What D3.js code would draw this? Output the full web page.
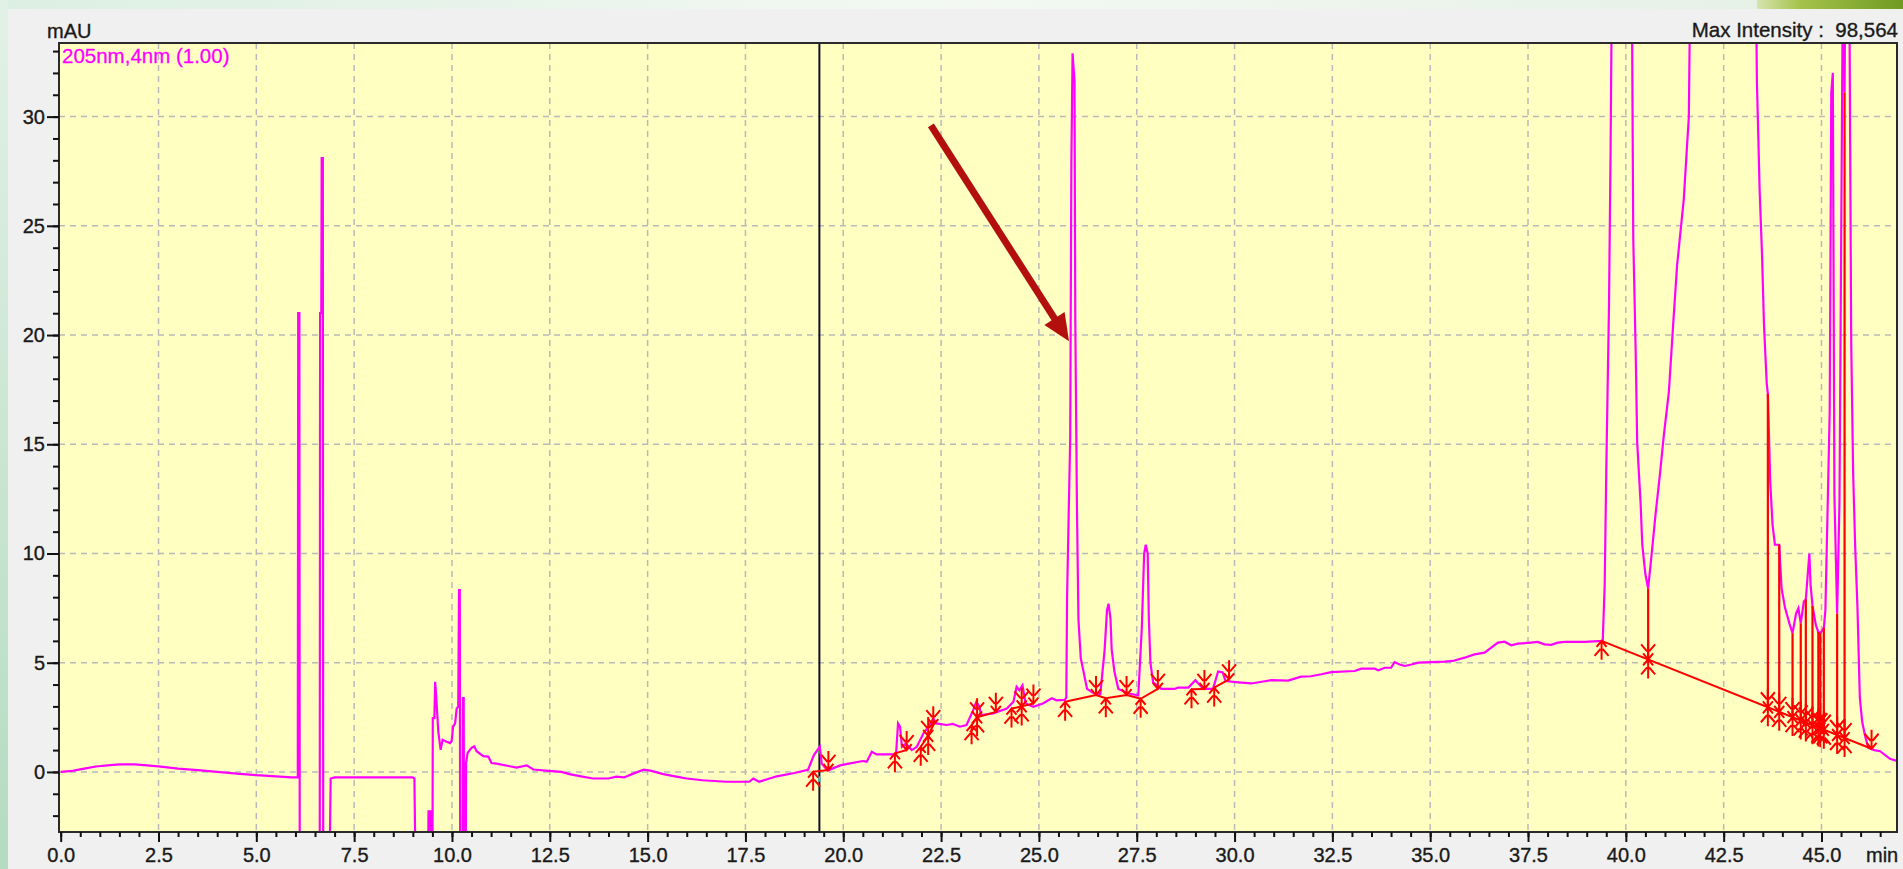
<!DOCTYPE html>
<html>
<head>
<meta charset="utf-8">
<script src="https://cdn.jsdelivr.net/npm/d3@7"></script>
<style>
body{margin:0;overflow:hidden;background:#f0f0f0}
text{font-family:"Liberation Sans",Arial,sans-serif}
</style>
</head>
<body>
<div id="chart"></div>
<script>
//chromatogram, 205nm channel

//trace points [time (min), absorbance (mAU)], off-scale parts go past the frame and get clipped
var trace = [
[0,0],[0.3,0.05],[0.6,0.15],[0.9,0.25],[1.2,0.3],[1.5,0.35],[1.9,0.35],[2.2,0.3],[2.5,0.25],[3.0,0.15],[3.5,0.08],[4.0,0],[4.5,-0.08],[5.0,-0.15],[5.5,-0.2],[5.9,-0.25],[6.06,-0.25],
[6.07,21.0],[6.1,21.0],[6.11,-6],
[6.62,-6],[6.63,21.0],[6.66,21.0],[6.67,28.1],[6.7,28.1],[6.71,-6],
[6.86,-6],[6.9,-0.3],[7.0,-0.25],[7.5,-0.25],[8.0,-0.25],[8.5,-0.25],[9.0,-0.25],[9.04,-0.3],[9.08,-6],
[9.38,-6],[9.4,-1.8],[9.45,-1.8],[9.47,-6],
[9.5,-6],[9.51,2.46],[9.55,2.46],[9.57,4.13],[9.6,3.38],[9.65,1.85],[9.71,1.01],[9.76,1.47],[9.85,1.39],[9.95,1.32],[9.99,1.4],[10.03,2.07],[10.08,2.22],[10.12,2.9],[10.16,3.0],[10.18,8.32],[10.2,8.32],[10.21,-6],
[10.27,-6],[10.28,3.38],[10.3,3.38],[10.31,-6],
[10.35,-6],[10.36,0.41],[10.4,0.87],[10.5,1.1],[10.57,1.17],[10.63,0.95],[10.8,0.72],[10.93,0.7],[11.01,0.41],[11.14,0.38],[11.48,0.26],[11.65,0.2],[11.91,0.3],[12.08,0.11],[12.46,0.05],[12.8,0.0],[13.0,-0.1],[13.3,-0.2],[13.6,-0.3],[14.0,-0.3],[14.2,-0.22],[14.4,-0.25],[14.6,-0.1],[14.9,0.1],[15.1,0.05],[15.4,-0.1],[15.7,-0.2],[16.0,-0.3],[16.4,-0.38],[17.0,-0.45],[17.6,-0.45],[17.7,-0.3],[17.85,-0.45],[18.3,-0.2],[18.75,-0.05],[19.1,0.1],
[19.25,0.77],[19.4,1.15],[19.45,0.38],[19.6,0.06],[19.92,0.3],[20.14,0.38],[20.5,0.5],[20.6,0.47],[20.73,0.92],[20.85,0.8],[21.27,0.8],[21.35,0.85],[21.4,2.22],[21.45,2.07],[21.5,1.15],[21.6,1.3],[21.75,1.0],[21.88,1.15],[22.05,1.77],[22.15,2.0],[22.3,2.45],[22.38,2.22],[22.64,2.15],[22.8,2.2],[22.98,2.07],[23.15,2.15],[23.32,2.83],[23.4,3.21],[23.48,3.0],[23.52,2.6],[23.83,2.68],[24.18,2.9],[24.35,3.21],[24.43,3.9],[24.5,3.74],[24.58,3.97],[24.66,3.13],[24.86,2.98],[25.1,3.13],[25.33,3.37],[25.45,3.28],[25.66,3.3],
[25.7,3.4],[25.72,8.0],[25.76,11.7],[25.8,15.3],[25.83,27.9],[25.86,32.9],[25.91,31.6],[25.93,20.7],[25.97,12.5],[26.01,7.0],[26.07,5.2],[26.14,4.6],[26.23,3.8],[26.4,3.6],[26.57,3.57],[26.68,5.6],[26.74,7.4],[26.78,7.7],[26.83,7.0],[26.86,5.6],[26.93,4.6],[27.03,3.8],[27.28,3.6],[27.54,3.5],[27.63,6.6],[27.69,10.0],[27.73,10.4],[27.78,10.0],[27.81,7.0],[27.85,5.0],[27.92,4.1],[28.13,3.8],[28.47,3.8],[28.55,3.86],[28.82,3.86],[29.0,4.2],[29.1,4.0],[29.2,3.8],[29.45,3.8],[29.58,4.6],[29.7,4.55],[29.77,4.16],[30.1,4.1],[30.43,4.05],[30.77,4.15],[30.94,4.2],[31.37,4.18],[31.7,4.36],[31.95,4.38],[32.22,4.47],[32.47,4.57],[33.07,4.62],[33.24,4.73],[33.58,4.73],[33.67,4.65],[33.84,4.77],[34.0,4.77],[34.09,5.03],[34.22,4.92],[34.35,4.85],[34.52,4.92],[34.69,5.0],[35.03,5.03],[35.37,5.05],[35.58,5.08],[35.71,5.15],[35.88,5.23],[36.13,5.38],[36.39,5.46],[36.56,5.69],[36.73,5.92],[36.9,5.96],[37.07,5.8],[37.24,5.87],[37.58,5.92],[37.75,5.95],[37.92,5.84],[38.09,5.82],[38.26,5.92],[38.43,5.95],[38.94,5.95],[39.41,6.0],
[39.46,8.6],[39.5,13.8],[39.57,21.4],[39.61,28.4],[39.66,40],[39.9,60],[40.14,40],[40.19,24.4],[40.25,19.4],[40.29,15.1],[40.38,12.2],[40.42,10.4],[40.5,9.05],[40.57,8.4],[40.65,9.8],[40.76,11.8],[40.87,13.6],[40.97,15.4],[41.1,17.4],[41.21,20.5],[41.31,23.2],[41.48,26.2],[41.61,30],[41.67,40],[42.5,98.564],[43.3,40],[43.35,31.6],[43.42,26.6],[43.48,23.7],[43.53,20.5],[43.6,17.8],[43.63,17.3],[43.69,13.3],[43.75,11.3],[43.81,10.4],[43.92,10.4],[43.98,8.4],[44.07,7.5],[44.18,6.8],[44.26,6.35],[44.35,7.25],[44.41,7.5],[44.47,6.8],[44.55,7.8],[44.6,7.9],[44.69,10.0],[44.72,8.6],[44.77,7.6],[44.86,6.7],[44.92,6.4],[44.97,6.35],[45.03,6.5],[45.06,6.6],[45.1,7.4],[45.15,11.5],[45.21,16.5],[45.25,31.1],[45.29,32.0],[45.33,12.7],[45.4,7.25],[45.46,12.4],[45.51,26.2],[45.56,40],[45.59,31.1],[45.62,40],[45.7,40],[45.76,19.6],[45.81,13.6],[45.86,10.4],[45.92,7.5],[45.98,3.4],[46.04,2.3],[46.12,1.6],[46.2,1.1],[46.35,1.0],[46.5,0.95],[46.75,0.6],[46.93,0.5]
];

//integration baselines (red)
var baselines = [
[[19.23,0.01],[19.62,0.09]],
[[21.32,0.85],[21.62,1.0]],
[[21.98,1.15],[22.17,1.65],[22.3,2.14]],
[[23.28,2.14],[23.42,2.5],[23.9,2.75]],
[[24.3,2.9],[24.56,3.0],[24.86,3.13]],
[[25.67,3.21],[26.46,3.52],[26.71,3.37],[27.24,3.52],[27.6,3.35],[28.04,3.8]],
[[28.9,3.78],[29.23,3.8]],
[[29.48,3.86],[29.86,4.24]],
[[39.38,6.0],[46.28,1.06]]
];

//peak start / end marks: s = start, e = end, b = both
var marks = [
[19.23,0.01,"s"],[19.62,0.09,"e"],
[21.32,0.85,"s"],[21.62,1.0,"e"],
[21.98,1.15,"s"],[22.17,1.65,"b"],[22.3,2.14,"e"],
[23.28,2.14,"s"],[23.42,2.5,"b"],[23.9,2.75,"e"],
[24.3,2.9,"s"],[24.56,3.0,"b"],[24.86,3.13,"e"],
[25.67,3.21,"s"],[26.46,3.52,"e"],[26.71,3.37,"s"],[27.24,3.52,"e"],[27.6,3.35,"s"],[28.04,3.8,"e"],
[28.9,3.78,"s"],[29.23,3.8,"e"],[29.48,3.86,"s"],[29.86,4.24,"e"],
[39.38,6.0,"s"],[40.57,5.15,"b"],[43.63,2.96,"b"],[43.92,2.75,"b"],[44.26,2.51,"b"],[44.47,2.36,"b"],[44.6,2.26,"b"],[44.77,2.14,"b"],[44.92,2.03,"b"],[44.97,2.0,"b"],[45.06,1.93,"b"],[45.4,1.69,"b"],[45.59,1.55,"b"],[46.28,1.06,"e"]
];

//drop lines [time, top, base]
var drops = [
[40.57,8.4,5.15],[43.63,17.3,2.96],[43.92,10.4,2.75],[44.26,6.35,2.51],[44.47,6.8,2.36],[44.6,7.9,2.26],[44.77,7.6,2.14],[44.92,6.4,2.03],[44.97,6.35,2.0],[45.06,6.6,1.93],[45.4,7.25,1.69],[45.59,31.1,1.55]
];

var cursorTime = 19.39;
var arrowFrom = [22.24, 29.6], arrowTo = [25.77, 19.72];

var xMajor = d3.range(0, 45.01, 2.5);
var xMinor = d3.range(0, 46.9, 0.5);
var yMajor = [0, 5, 10, 15, 20, 25, 30];
var yMinor = d3.range(-2, 34, 1);

var W = 1903, H = 869;
var P = {left:59, top:43, right:1897, bottom:832};

var x = d3.scaleLinear().domain([-0.043, 46.93]).range([P.left, P.right]);
var y = d3.scaleLinear().domain([-2.75, 33.37]).range([P.bottom, P.top]);

var svg = d3.select("#chart").append("svg").attr("width", W).attr("height", H);
var defs = svg.append("defs");

//window chrome
var g1 = defs.append("linearGradient").attr("id","topband");
g1.append("stop").attr("offset","0").attr("stop-color","#dcefe2");
g1.append("stop").attr("offset","0.5").attr("stop-color","#f3f8f3");
g1.append("stop").attr("offset","1").attr("stop-color","#e4f0e4");
var g2 = defs.append("linearGradient").attr("id","leaf");
g2.append("stop").attr("offset","0").attr("stop-color","#d6e4b0");
g2.append("stop").attr("offset","0.3").attr("stop-color","#a4c24a");
g2.append("stop").attr("offset","1").attr("stop-color","#6f9a22");
var g3 = defs.append("linearGradient").attr("id","leftband").attr("x1",0).attr("y1",0).attr("x2",0).attr("y2",1);
g3.append("stop").attr("offset","0").attr("stop-color","#e2f1e6");
g3.append("stop").attr("offset","1").attr("stop-color","#b4dbc0");

svg.append("rect").attr("width",W).attr("height",H).attr("fill","url(#topband)");
svg.append("rect").attr("width",8).attr("height",H).attr("fill","url(#leftband)");
svg.append("rect").attr("x",1757).attr("width",W-1757).attr("height",9).attr("fill","url(#leaf)");
svg.append("rect").attr("x",8).attr("y",9).attr("width",W-8).attr("height",H-9).attr("fill","#f0f0f0");

//plot area
svg.append("rect").attr("x",P.left).attr("y",P.top)
	.attr("width",P.right-P.left).attr("height",P.bottom-P.top)
	.attr("fill","#ffffc2");

defs.append("clipPath").attr("id","clip").append("rect")
	.attr("x",P.left).attr("y",P.top)
	.attr("width",P.right-P.left).attr("height",P.bottom-P.top);

//grid
var grid = svg.append("g").attr("stroke","#b9b9b9").attr("stroke-width",1.5).attr("stroke-dasharray","6,5");
grid.selectAll("line.v").data(xMajor.filter(function(d){return d>0})).enter().append("line")
	.attr("x1",function(d){return x(d)}).attr("x2",function(d){return x(d)})
	.attr("y1",P.top).attr("y2",P.bottom);
grid.selectAll("line.h").data(yMajor).enter().append("line")
	.attr("y1",function(d){return y(d)}).attr("y2",function(d){return y(d)})
	.attr("x1",P.left).attr("x2",P.right);

var plot = svg.append("g").attr("clip-path","url(#clip)");

//cursor line
plot.append("line").attr("x1",x(cursorTime)).attr("x2",x(cursorTime))
	.attr("y1",P.top).attr("y2",P.bottom).attr("stroke","#10102a").attr("stroke-width",2);
plot.append("line").attr("x1",x(cursorTime)).attr("x2",x(cursorTime))
	.attr("y1",y(1.15)).attr("y2",y(0.85)).attr("stroke","#22dd22").attr("stroke-width",2);
plot.append("line").attr("x1",x(cursorTime)).attr("x2",x(cursorTime))
	.attr("y1",y(-0.2)).attr("y2",y(-0.45)).attr("stroke","#22cccc").attr("stroke-width",2);

//trace
var line = d3.line().x(function(d){return x(d[0])}).y(function(d){return y(d[1])});
plot.append("path").datum(trace).attr("d",line)
	.attr("fill","none").attr("stroke","#ff00ff").attr("stroke-width",2.2).attr("stroke-linejoin","miter");

//baselines, drop lines
var red = "#ff0000";
plot.selectAll("path.base").data(baselines).enter().append("path").attr("class","base")
	.attr("d",line).attr("fill","none").attr("stroke",red).attr("stroke-width",2);
plot.selectAll("line.drop").data(drops).enter().append("line")
	.attr("x1",function(d){return x(d[0])}).attr("x2",function(d){return x(d[0])})
	.attr("y1",function(d){return y(d[1])}).attr("y2",function(d){return y(d[2])})
	.attr("stroke",red).attr("stroke-width",2.2);

//markers: up arrow below the point for start, down arrow above for end
function markPath(px, py, s){
	// s = 1 -> below (start), s = -1 -> above (end)
	return "M"+px+","+py+"L"+px+","+(py+19*s)+
		"M"+(px-5)+","+(py+6*s)+"L"+px+","+py+"L"+(px+5)+","+(py+6*s)+
		"M"+(px-1)+","+(py+8*s)+"L"+(px-7)+","+(py+15*s)+
		"M"+(px+1)+","+(py+8*s)+"L"+(px+7)+","+(py+15*s);
}
plot.selectAll("path.mark").data(marks).enter().append("path").attr("class","mark")
	.attr("d",function(d){
		var px = x(d[0]), py = y(d[1]);
		if(d[2]=="s") return markPath(px,py,1);
		if(d[2]=="e") return markPath(px,py,-1);
		return markPath(px,py,1)+markPath(px,py,-1);
	})
	.attr("fill","none").attr("stroke",red).attr("stroke-width",2);

//arrow annotation
var ax0 = x(arrowFrom[0]), ay0 = y(arrowFrom[1]), ax1 = x(arrowTo[0]), ay1 = y(arrowTo[1]);
var len = Math.hypot(ax1-ax0, ay1-ay0), ux = (ax1-ax0)/len, uy = (ay1-ay0)/len;
var hl = 27, hw = 12;
var bx = ax1-ux*hl, by = ay1-uy*hl;
svg.append("line").attr("x1",ax0).attr("y1",ay0).attr("x2",bx+ux*2).attr("y2",by+uy*2)
	.attr("stroke","#b40f0f").attr("stroke-width",7);
svg.append("path")
	.attr("d","M"+ax1+","+ay1+"L"+(bx-uy*hw)+","+(by+ux*hw)+"L"+(bx+uy*hw)+","+(by-ux*hw)+"Z")
	.attr("fill","#b40f0f");

//frame
svg.append("rect").attr("x",P.left).attr("y",P.top)
	.attr("width",P.right-P.left).attr("height",P.bottom-P.top)
	.attr("fill","none").attr("stroke","#2a2a2a").attr("stroke-width",2);

//axes
function styleAxis(g){
	g.select(".domain").remove();
	g.selectAll("line").attr("stroke","#111").attr("stroke-width",2);
	g.selectAll("text").attr("fill","#1a1a1a").attr("stroke","#1a1a1a").attr("stroke-width",0.35)
		.style("font-size","20px")
		.style("font-family","'Liberation Sans',Arial,sans-serif");
}
svg.append("g").attr("transform","translate("+P.left+",0)")
	.call(d3.axisLeft(y).tickValues(yMinor).tickSize(6).tickFormat(""))
	.call(styleAxis);
svg.append("g").attr("transform","translate("+P.left+",0)")
	.call(d3.axisLeft(y).tickValues(yMajor).tickSize(12).tickPadding(2).tickFormat(d3.format("d")))
	.call(styleAxis);
svg.append("g").attr("transform","translate(0,"+P.bottom+")")
	.call(d3.axisBottom(x).tickValues(xMinor).tickSize(5).tickFormat(""))
	.call(styleAxis);
svg.append("g").attr("transform","translate(0,"+P.bottom+")")
	.call(d3.axisBottom(x).tickValues(xMajor).tickSize(10).tickPadding(6).tickFormat(d3.format(".1f")))
	.call(styleAxis);

//texts
var dark = "#1a1a1a";
svg.append("text").attr("x",47).attr("y",38).attr("fill",dark).attr("stroke",dark).attr("stroke-width",0.35)
	.style("font-size","20px").text("mAU");
svg.append("text").attr("x",1898).attr("y",37).attr("text-anchor","end").attr("fill",dark).attr("stroke",dark).attr("stroke-width",0.35)
	.style("font-size","20.5px").style("white-space","pre").text("Max Intensity :  98,564");
svg.append("text").attr("x",62).attr("y",63).attr("fill","#ff00ff").attr("stroke","#ff00ff").attr("stroke-width",0.3)
	.style("font-size","20.5px").text("205nm,4nm (1.00)");
svg.append("text").attr("x",1866).attr("y",862).attr("fill",dark).attr("stroke",dark).attr("stroke-width",0.35)
	.style("font-size","20px").text("min");
</script>
</body>
</html>
